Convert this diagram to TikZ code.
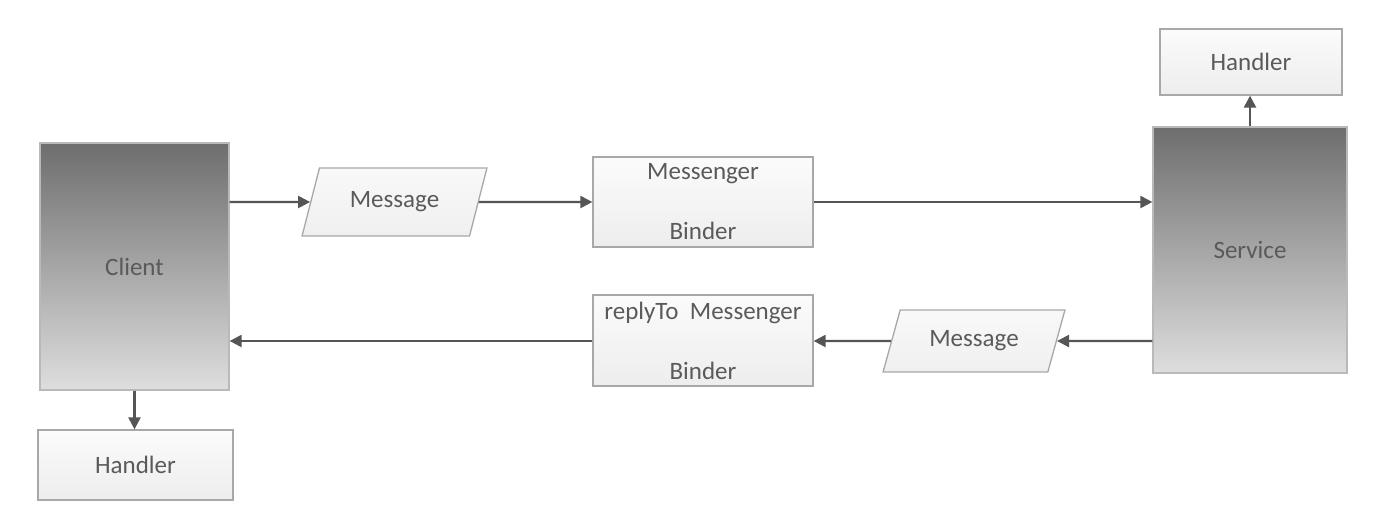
\documentclass[tikz,border=0pt]{standalone}
\usepackage{fontspec}
\setmainfont{Carlito}
\usetikzlibrary{arrows.meta,shapes.geometric}
\definecolor{txt}{HTML}{5A5A5A}
\definecolor{edge}{HTML}{A8A8A8}
\definecolor{arrowc}{HTML}{555555}
\tikzset{
  lbl/.style={font=\fontsize{25}{30}\selectfont, text=txt, align=center, inner sep=0pt},
  lightbox/.style={lbl, rectangle, draw=edge, line width=1.3pt, top color=white!97!gray, bottom color=white!86!gray},
  darkbox/.style={lbl, rectangle, draw=edge!80, line width=1.3pt, top color=black!57, bottom color=black!13},
  msgbox/.style={lbl, trapezium, trapezium left angle=63, trapezium right angle=117, trapezium stretches=true, draw=edge, line width=1.3pt, top color=white!95!gray, bottom color=white!88!gray},
  arr/.style={draw=arrowc, line width=2.3pt, -{Triangle[length=12pt,width=12pt]}}
}
\begin{document}
\begin{tikzpicture}[x=1pt,y=-1pt]
\useasboundingbox[fill=white] (0,0) rectangle (1396,532);
\node[darkbox, minimum width=189pt, minimum height=247pt] (client) at (134.5,266.5) {Client};
\node[lightbox, minimum width=195pt, minimum height=70pt] (handlerL) at (135.5,465) {Handler};
\node[darkbox, minimum width=194pt, minimum height=246pt] (service) at (1250,250) {Service};
\node[lightbox, minimum width=182pt, minimum height=66pt] (handlerR) at (1251,62) {Handler};
\node[lightbox, minimum width=220pt, minimum height=90pt] (mb) at (703,202) {Messenger\\[30pt]Binder};
\node[lightbox, minimum width=220pt, minimum height=91pt] (rb) at (703,340.5) {replyTo\ \ Messenger\\[30pt]Binder};
\node[msgbox, minimum width=185pt, minimum height=68pt] (msg1) at (394.5,202) {Message};
\node[msgbox, minimum width=182pt, minimum height=62pt] (msg2) at (974,341) {Message};
\draw[arr] (client.east |- msg1.center) -- (msg1);
\draw[arr] (msg1) -- (mb);
\draw[arr] (mb.east) -- (mb.east -| service.west);
\draw[arr] (service.west |- msg2.center) -- (msg2);
\draw[arr] (msg2) -- (msg2 -| rb.east);
\draw[arr] (rb.west |- msg2.center) -- (client.east |- msg2.center);
\draw[arr] (client.south) -- (client.south |- handlerL.north);
\draw[arr] (service.north) -- (service.north |- handlerR.south);
\end{tikzpicture}
\end{document}
